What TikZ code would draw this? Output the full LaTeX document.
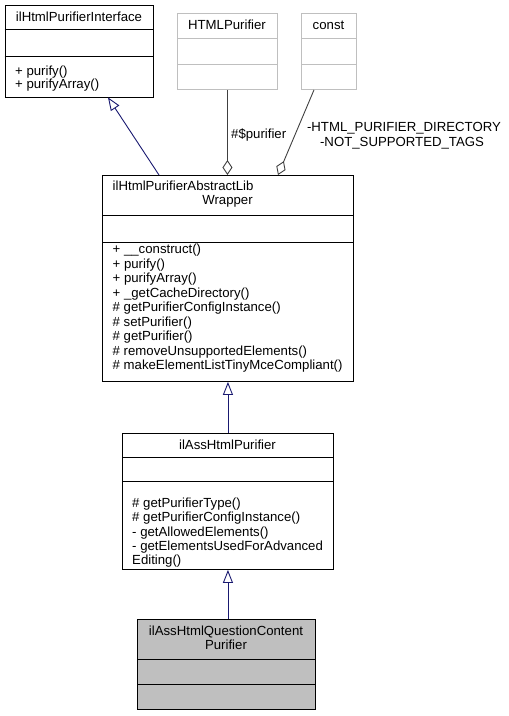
\documentclass[tikz,border=0pt]{standalone}
\usepackage{fontspec}
\setmainfont{Liberation Sans}
\usetikzlibrary{arrows.meta,calc}
\definecolor{inhcol}{RGB}{25,25,112}
\definecolor{aggcol}{RGB}{64,64,64}
\definecolor{grayedge}{RGB}{191,191,191}
\begin{document}
\begin{tikzpicture}[x=1pt,y=-1pt,
  box/.style={draw=black, line width=0.9pt, inner sep=0pt, anchor=north west},
  gbox/.style={draw=grayedge, line width=0.9pt, inner sep=0pt, anchor=north west},
  txt/.style={inner sep=0pt, anchor=base west, font=\fontsize{13.2}{15}\selectfont},
  ctxt/.style={inner sep=0pt, anchor=base, font=\fontsize{13.2}{15}\selectfont},
  divider/.style={line width=0.9pt},
  inherit/.style={draw=inhcol, line width=0.9pt, -{Triangle[open,length=13pt,width=10pt,fill=white]}},
  aggreg/.style={draw=aggcol, line width=0.9pt, -{Diamond[open,length=15pt,width=10pt,fill=white]}}
]
\useasboundingbox (0,0) rectangle (509,716);

% ilHtmlPurifierInterface
\node[box, minimum width=148.5pt, minimum height=92pt] (iface) at (4.5,4.5) {};
\draw[divider] ($(iface.north west)+(0,25)$) -- ($(iface.north east)+(0,25)$);
\draw[divider] ($(iface.north west)+(0,52)$) -- ($(iface.north east)+(0,52)$);
\node[ctxt] (ifacet) at (79,21.5) {ilHtmlPurifierInterface};
\node[txt] (ifacem1) at (15,75) {+ purify()};
\node[txt] (ifacem2) at (15,88) {+ purifyArray()};

% HTMLPurifier
\node[gbox, minimum width=100pt, minimum height=76pt] (hp) at (177,13) {};
\draw[divider, grayedge] ($(hp.north west)+(0,25)$) -- ($(hp.north east)+(0,25)$);
\draw[divider, grayedge] ($(hp.north west)+(0,51)$) -- ($(hp.north east)+(0,51)$);
\node[ctxt] (hpt) at (227,29.5) {HTMLPurifier};

% const
\node[gbox, minimum width=55pt, minimum height=76pt] (cst) at (301,13) {};
\draw[divider, grayedge] ($(cst.north west)+(0,25)$) -- ($(cst.north east)+(0,25)$);
\draw[divider, grayedge] ($(cst.north west)+(0,51)$) -- ($(cst.north east)+(0,51)$);
\node[ctxt] (cstt) at (328.5,29.5) {const};

% ilHtmlPurifierAbstractLibWrapper
\node[box, minimum width=251pt, minimum height=206pt] (wrap) at (102,175) {};
\draw[divider] ($(wrap.north west)+(0,40)$) -- ($(wrap.north east)+(0,40)$);
\draw[divider] ($(wrap.north west)+(0,67)$) -- ($(wrap.north east)+(0,67)$);
\node[txt] (wrapt1) at (112.5,190.5) {ilHtmlPurifierAbstractLib};
\node[ctxt] (wrapt2) at (227.5,204.5) {Wrapper};
\node[txt] (wm1) at (112.5,253.5) {+ \_\_construct()};
\node[txt] (wm2) at (112.5,268) {+ purify()};
\node[txt] (wm3) at (112.5,282.5) {+ purifyArray()};
\node[txt] (wm4) at (112.5,297) {+ \_getCacheDirectory()};
\node[txt] (wm5) at (112.5,311.5) {\# getPurifierConfigInstance()};
\node[txt] (wm6) at (112.5,326) {\# setPurifier()};
\node[txt] (wm7) at (112.5,340.5) {\# getPurifier()};
\node[txt] (wm8) at (112.5,355) {\# removeUnsupportedElements()};
\node[txt] (wm9) at (112.5,369.5) {\# makeElementListTinyMceCompliant()};

% ilAssHtmlPurifier
\node[box, minimum width=211pt, minimum height=136pt] (ass) at (122,433) {};
\draw[divider] ($(ass.north west)+(0,24)$) -- ($(ass.north east)+(0,24)$);
\draw[divider] ($(ass.north west)+(0,48)$) -- ($(ass.north east)+(0,48)$);
\node[ctxt] (asst) at (227.5,449.5) {ilAssHtmlPurifier};
\node[txt] (am1) at (132,507.5) {\# getPurifierType()};
\node[txt] (am2) at (132,521.8) {\# getPurifierConfigInstance()};
\node[txt] (am3) at (132,536.1) {- getAllowedElements()};
\node[txt] (am4) at (132,550.4) {- getElementsUsedForAdvanced};
\node[txt] (am5) at (132,564.7) {Editing()};

% ilAssHtmlQuestionContentPurifier
\node[box, fill=grayedge, minimum width=178pt, minimum height=90pt] (qcp) at (137,619) {};
\draw[divider] ($(qcp.north west)+(0,40)$) -- ($(qcp.north east)+(0,40)$);
\draw[divider] ($(qcp.north west)+(0,65)$) -- ($(qcp.north east)+(0,65)$);
\node[ctxt] (qcpt1) at (226,635.5) {ilAssHtmlQuestionContent};
\node[ctxt] (qcpt2) at (226,649.5) {Purifier};

% connectors
\draw[inherit] ($(wrap.north west)+(57,0)$) -- ($(iface.south west)+(103.5,0)$);
\draw[inherit] (ass.north) -- (wrap.south);
\draw[inherit] (qcp.north -| ass.north) -- (ass.south);
\draw[aggreg] (hp.south) -- (hp.south |- wrap.north);
\draw[aggreg] ($(cst.south west)+(13,0)$) -- ($(wrap.north west)+(176,0)$);

% labels
\node[txt] (lblp) at (231,138.5) {\#\$purifier};
\node[ctxt] (lblc1) at (404,131.5) {-HTML\_PURIFIER\_DIRECTORY};
\node[ctxt] (lblc2) at (402,146.5) {-NOT\_SUPPORTED\_TAGS};
\end{tikzpicture}
\end{document}
